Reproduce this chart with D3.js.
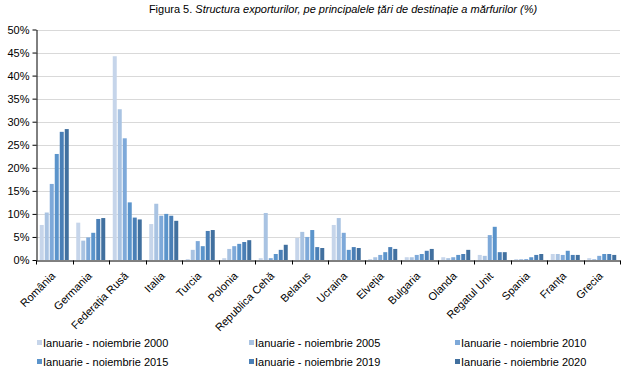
<!DOCTYPE html>
<html>
<head>
<meta charset="utf-8">
<title>Figura 5</title>
<script src="https://cdn.jsdelivr.net/npm/d3@7"></script>
<style>
body { margin: 0; background: #fff; }
text { font-family: "Liberation Sans", Arial, sans-serif; fill: #000; }
</style>
</head>
<body>
<script>
var w = 628, h = 371;

var countries = ["România", "Germania", "Federația Rusă", "Italia", "Turcia", "Polonia",
  "Republica Cehă", "Belarus", "Ucraina", "Elveția", "Bulgaria", "Olanda",
  "Regatul Unit", "Spania", "Franța", "Grecia"];
var seriesNames = ["Ianuarie - noiembrie 2000", "Ianuarie - noiembrie 2005", "Ianuarie - noiembrie 2010",
  "Ianuarie - noiembrie 2015", "Ianuarie - noiembrie 2019", "Ianuarie - noiembrie 2020"];
var colors = ["#c6d5ea", "#a9c3e2", "#7ea9d9", "#5b94cb", "#4a7fb6", "#41709f"];

// values in %, one array per period, in country order
var v2000 = [7.6, 8.1, 44.2, 7.8, 0.2, 0.4, 0.4, 4.8, 7.6, 0.2, 0.6, 0.6, 1.1, 0.2, 1.3, 0.4];
var v2005 = [10.3, 4.2, 32.7, 12.2, 2.2, 2.4, 10.2, 6.1, 9.1, 0.6, 0.6, 0.4, 0.9, 0.2, 1.3, 0.2];
var v2010 = [16.5, 4.9, 26.4, 9.6, 4.1, 3.0, 0.4, 5.0, 5.9, 1.1, 1.1, 0.6, 5.4, 0.2, 1.1, 0.9];
var v2015 = [23.0, 5.9, 12.5, 10.0, 3.0, 3.5, 1.3, 6.5, 2.2, 1.7, 1.3, 1.1, 7.2, 0.6, 2.0, 1.3];
var v2019 = [27.8, 8.9, 9.2, 9.6, 6.3, 3.9, 2.2, 2.8, 2.8, 2.8, 2.0, 1.3, 1.7, 1.1, 1.1, 1.3];
var v2020 = [28.4, 9.1, 8.8, 8.5, 6.5, 4.3, 3.3, 2.6, 2.6, 2.4, 2.4, 2.2, 1.7, 1.3, 1.1, 1.1];
var series = [v2000, v2005, v2010, v2015, v2019, v2020];

var yTicks = [0, 5, 10, 15, 20, 25, 30, 35, 40, 45, 50];

var mLeft = 36, mRight = 620, mTop = 29.5, mBottom = 260;

var svg = d3.select("body").append("svg")
  .attr("width", w).attr("height", h);

// title
var title = svg.append("text")
  .attr("x", 343).attr("y", 13)
  .attr("text-anchor", "middle")
  .style("font-size", "11px");
title.append("tspan").text("Figura 5. ");
title.append("tspan").style("font-style", "italic")
  .text("Structura exporturilor, pe principalele țări de destinație a mărfurilor (%)");

var x = d3.scaleBand().domain(countries).range([mLeft, mRight]);
var xs = d3.scaleBand().domain(d3.range(series.length))
  .range([3.75, x.bandwidth() - 3.75]).paddingInner(0.2);
var y = d3.scaleLinear().domain([0, 50]).range([mBottom, mTop]);

// gridlines
svg.append("g").selectAll("line")
  .data(yTicks.slice(1))
  .enter().append("line")
  .attr("x1", mLeft).attr("x2", mRight)
  .attr("y1", function(d) { return Math.round(y(d)) + 0.5; })
  .attr("y2", function(d) { return Math.round(y(d)) + 0.5; })
  .attr("stroke", "#d9d9d9").attr("stroke-width", 1);

// bars
series.forEach(function(vals, si) {
  svg.append("g").selectAll("rect")
    .data(vals)
    .enter().append("rect")
    .attr("x", function(d, i) { return x(countries[i]) + xs(si); })
    .attr("width", xs.bandwidth())
    .attr("y", function(d) { return y(d); })
    .attr("height", function(d) { return mBottom - y(d); })
    .attr("fill", colors[si]);
});

// y axis
var yAxis = d3.axisLeft(y).tickValues(yTicks)
  .tickFormat(function(d) { return d + "%"; })
  .tickSizeInner(4).tickSizeOuter(0).tickPadding(3);
var gy = svg.append("g").attr("transform", "translate(" + (mLeft + 0.5) + ",0)").call(yAxis);
gy.selectAll("text").style("font-size", "11px").style("font-family", "'Liberation Sans', Arial, sans-serif");
gy.selectAll("path, line").attr("stroke", "#000");

// x axis
var xAxis = d3.axisBottom(x).tickSize(0).tickFormat("");
var gx = svg.append("g").attr("transform", "translate(0," + (mBottom + 0.5) + ")").call(xAxis);
gx.select("path").attr("stroke", "#000");
gx.selectAll(".tick").remove();
gx.selectAll("line.sep")
  .data(countries.concat([null]))
  .enter().append("line")
  .attr("class", "sep")
  .attr("x1", function(d, i) { return Math.round(mLeft + i * x.bandwidth()) + 0.5; })
  .attr("x2", function(d, i) { return Math.round(mLeft + i * x.bandwidth()) + 0.5; })
  .attr("y1", 0).attr("y2", 4)
  .attr("stroke", "#000");

// category labels, rotated
svg.append("g").selectAll("text")
  .data(countries)
  .enter().append("text")
  .attr("transform", function(d) {
    return "translate(" + (x(d) + x.bandwidth() / 2 - 1) + "," + (mBottom + 14) + ") rotate(-45)";
  })
  .attr("text-anchor", "end")
  .attr("dy", "0.35em")
  .style("font-size", "11px")
  .text(function(d) { return d; });

// legend
var legX = [37, 249, 455], legY = [343, 362];
var leg = svg.append("g").selectAll("g")
  .data(seriesNames)
  .enter().append("g")
  .attr("transform", function(d, i) {
    return "translate(" + legX[i % 3] + "," + legY[Math.floor(i / 3)] + ")";
  });
leg.append("rect")
  .attr("x", 0).attr("y", -3).attr("width", 5).attr("height", 5)
  .attr("fill", function(d, i) { return colors[i]; });
leg.append("text")
  .attr("x", 6).attr("y", 0).attr("dy", "0.35em")
  .style("font-size", "11px")
  .text(function(d) { return d; });
</script>
</body>
</html>
